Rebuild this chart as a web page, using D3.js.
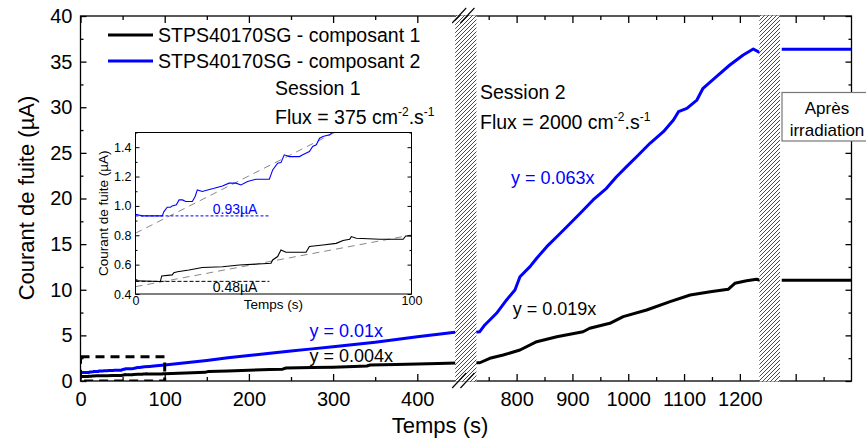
<!DOCTYPE html>
<html><head><meta charset="utf-8">
<script src="https://cdn.jsdelivr.net/npm/d3@7"></script>
<style>
html,body{margin:0;padding:0;background:#fff;}
svg{display:block;font-family:"Liberation Sans",Arial,sans-serif;}
</style></head>
<body>
<svg id="chart" width="866" height="441"></svg>
<script>
// ---------------- DATA ----------------
const seriesNames = ["STPS40170SG - composant 1", "STPS40170SG - composant 2"];
const seriesColors = ["#000000", "#0000ff"];

// Session 1 (Flux = 375 cm-2.s-1) : [time (s), current (µA)]
const black1 = [[0,0.49],[9,0.485],[9.5,0.523],[13.3,0.53],[13.9,0.545],[15.2,0.552],[19.4,0.564],[24.2,0.58],[31.5,0.586],[37.6,0.598],[49.1,0.609],[49.7,0.632],[51.5,0.655],[52.7,0.70],[54.5,0.684],[61.8,0.684],[63,0.723],[67.9,0.734],[72.7,0.745],[75.2,0.764],[77.6,0.773],[78.2,0.791],[80,0.78],[88.5,0.773],[97,0.773],[97.9,0.795],[100,0.795],[125,0.87],[148,0.95],[152,1.05],[175,1.1],[200,1.18],[225,1.25],[240,1.3],[244,1.42],[275,1.47],[300,1.52],[325,1.6],[340,1.65],[344,1.75],[375,1.8],[400,1.85],[425,1.92],[447,1.97]];
const blue1 = [[0,0.943],[2.4,0.932],[9.7,0.932],[10.3,0.961],[11.5,0.991],[12.7,0.991],[13.3,1.0],[14.8,1.007],[15.8,1.041],[17,1.041],[18.2,1.03],[20.6,1.03],[21.6,1.064],[22.4,1.109],[24.2,1.098],[26.1,1.109],[28.5,1.12],[31.5,1.136],[33.9,1.155],[36.4,1.155],[38.2,1.143],[40.6,1.166],[43.6,1.182],[48.5,1.182],[49.7,1.245],[51.5,1.291],[52.7,1.295],[53.9,1.348],[55.8,1.336],[59.4,1.336],[60.6,1.348],[63,1.37],[64.2,1.405],[65.5,1.416],[66.7,1.461],[67.9,1.473],[70.3,1.484],[72,1.51],[76,1.55],[82,1.6],[90,1.67],[100,1.75],[125,2.0],[150,2.25],[175,2.55],[200,2.8],[225,3.05],[250,3.3],[275,3.52],[300,3.75],[325,4.0],[350,4.25],[375,4.55],[400,4.85],[425,5.12],[447,5.36]];

// Session 2 (Flux = 2000 cm-2.s-1)
const black2 = [[725,2.0],[734,2.0],[752,2.49],[776,2.85],[806,3.40],[836,4.31],[872,4.85],[919,5.40],[931,5.78],[967,6.32],[991,7.05],[1033,7.78],[1075,8.69],[1111,9.42],[1147,9.79],[1179,10.05],[1191,10.71],[1212,10.99],[1230,11.15],[1239,10.99]];
const blue2 = [[725,5.34],[734,5.40],[743,6.14],[764,7.42],[782,8.88],[797,9.97],[806,11.43],[824,12.53],[836,13.45],[854,14.72],[872,15.81],[890,16.91],[914,18.38],[937,19.84],[961,21.12],[979,22.39],[997,23.49],[1015,24.58],[1039,26.05],[1063,27.32],[1081,28.60],[1090,29.51],[1105,29.88],[1123,30.79],[1134,32.08],[1158,33.35],[1182,34.63],[1206,35.73],[1224,36.38],[1236,35.98]];

// After irradiation
const black3 = [[1275,11.05],[1400,11.05]];
const blue3 = [[1275,36.35],[1400,36.35]];

// Axis ticks
const yMajor = [0,5,10,15,20,25,30,35,40];
const yMinor = [2.5,7.5,12.5,17.5,22.5,27.5,32.5,37.5];
const x1Major = [0,100,200,300,400];
const x1Minor = [50,150,250,350];
const x2Major = [800,900,1000,1100,1200];
const x2Unlabeled = [1300];
const x2Minor = [750,850,950,1050,1150,1250,1350];

// Breaks (time spans hidden by hatched bands)
const break1 = [445, 728];
const break2 = [1235, 1272];

// Annotations
const fitLabels = [
  {session:1, t:272, v:4.8, text:"y = 0.01x", color:"#0000ff"},
  {session:1, t:272, v:2.1, text:"y = 0.004x", color:"#000"},
  {session:2, t:790, v:21.6, text:"y = 0.063x", color:"#0000ff"},
  {session:2, t:793, v:7.2, text:"y = 0.019x", color:"#000"}
];
const zoomBox = [0, 100, 0, 2.66];

// Inset
const insetYTicks = [0.4,0.6,0.8,1.0,1.2,1.4];
const insetYMinor = [0.5,0.7,0.9,1.1,1.3,1.5];
const insetXTicks = [0,100];
const insetRefs = [{v:0.932, t0:0, t1:48.5, label:"0.93µA", color:"#0000ff", lv:0.98, dash:"3,2"},
                   {v:0.486, t0:0, t1:48.5, label:"0.48µA", color:"#000", lv:0.445, dash:"4,2"}];
const insetFits = [{a:0.814, b:0.0095}, {a:0.45, b:0.00352}];

// ---------------- LAYOUT ----------------
const svg = d3.select("#chart");
const L = 80.5, R = 851.5, T = 16, B = 381;
const y = d3.scaleLinear().domain([0,40]).range([B,T]);
const x1 = d3.scaleLinear().domain([0,450]).range([L,459.4]);
const x2 = d3.scaleLinear().domain([700,1400]).range([460.8,R]);
const FONT = '"Liberation Sans",Arial,sans-serif';
const fmtInt = d3.format("d");

const defs = svg.append("defs");
const pat = defs.append("pattern").attr("id","hatch").attr("patternUnits","userSpaceOnUse")
  .attr("width",4).attr("height",4);
pat.append("rect").attr("width",4).attr("height",4).attr("fill","#fff");
pat.append("path").attr("d","M-1,1 L1,-1 M0,4 L4,0 M3,5 L5,3").attr("stroke","#333").attr("stroke-width",0.9);

defs.append("clipPath").attr("id","clipMain").append("rect")
  .attr("x",L).attr("y",T).attr("width",R-L).attr("height",B-T);

const main = svg.append("g").attr("clip-path","url(#clipMain)");
const line1 = d3.line().x(d=>x1(d[0])).y(d=>y(d[1]));
const line2 = d3.line().x(d=>x2(d[0])).y(d=>y(d[1]));
[[black1,0],[blue1,1]].forEach(([d,i])=>main.append("path").datum(d).attr("d",line1)
  .attr("fill","none").attr("stroke",seriesColors[i]).attr("stroke-width",3).attr("stroke-linejoin","round"));
[[black2,0],[blue2,1],[black3,0],[blue3,1]].forEach(([d,i])=>main.append("path").datum(d).attr("d",line2)
  .attr("fill","none").attr("stroke",seriesColors[i]).attr("stroke-width",3).attr("stroke-linejoin","round"));

// dashed zoom box
main.append("rect").attr("x",x1(zoomBox[0])).attr("y",y(zoomBox[3]))
  .attr("width",x1(zoomBox[1])-x1(zoomBox[0])).attr("height",y(zoomBox[2])-y(zoomBox[3]))
  .attr("fill","none").attr("stroke","#000").attr("stroke-width",3).attr("stroke-dasharray","9,6");

// frame
svg.append("rect").attr("x",L).attr("y",T).attr("width",R-L).attr("height",B-T)
  .attr("fill","none").attr("stroke","#000").attr("stroke-width",1.3);

function styleAxis(g, fs){
  g.select(".domain").remove();
  g.selectAll("line").attr("stroke","#000").attr("stroke-width",1.3);
  g.selectAll("text").attr("font-family",FONT).attr("font-size",fs).attr("fill","#000");
}
// bottom
svg.append("g").attr("transform",`translate(0,${B})`).call(d3.axisBottom(x1).tickValues(x1Major).tickSize(-7).tickPadding(11).tickFormat(fmtInt)).call(styleAxis,20);
svg.append("g").attr("transform",`translate(0,${B})`).call(d3.axisBottom(x1).tickValues(x1Minor).tickSize(-4).tickFormat("")).call(styleAxis,20);
svg.append("g").attr("transform",`translate(0,${B})`).call(d3.axisBottom(x2).tickValues(x2Major).tickSize(-7).tickPadding(11).tickFormat(fmtInt)).call(styleAxis,20);
svg.append("g").attr("transform",`translate(0,${B})`).call(d3.axisBottom(x2).tickValues(x2Unlabeled).tickSize(-7).tickFormat("")).call(styleAxis,20);
svg.append("g").attr("transform",`translate(0,${B})`).call(d3.axisBottom(x2).tickValues(x2Minor).tickSize(-4).tickFormat("")).call(styleAxis,20);
// top
svg.append("g").attr("transform",`translate(0,${T})`).call(d3.axisTop(x1).tickValues(x1Major).tickSize(-7).tickFormat("")).call(styleAxis,20);
svg.append("g").attr("transform",`translate(0,${T})`).call(d3.axisTop(x1).tickValues(x1Minor).tickSize(-4).tickFormat("")).call(styleAxis,20);
svg.append("g").attr("transform",`translate(0,${T})`).call(d3.axisTop(x2).tickValues(x2Major.concat(x2Unlabeled)).tickSize(-7).tickFormat("")).call(styleAxis,20);
svg.append("g").attr("transform",`translate(0,${T})`).call(d3.axisTop(x2).tickValues(x2Minor).tickSize(-4).tickFormat("")).call(styleAxis,20);
// left / right
svg.append("g").attr("transform",`translate(${L},0)`).call(d3.axisLeft(y).tickValues(yMajor).tickSize(-6).tickPadding(8).tickFormat(fmtInt)).call(styleAxis,20);
svg.append("g").attr("transform",`translate(${L},0)`).call(d3.axisLeft(y).tickValues(yMinor).tickSize(-3).tickFormat("")).call(styleAxis,20);
svg.append("g").attr("transform",`translate(${R},0)`).call(d3.axisRight(y).tickValues(yMajor).tickSize(-6).tickFormat("")).call(styleAxis,20);
svg.append("g").attr("transform",`translate(${R},0)`).call(d3.axisRight(y).tickValues(yMinor).tickSize(-3).tickFormat("")).call(styleAxis,20);

// hatched bands
const bands = [[x1(break1[0]), x2(break1[1]), true],[x2(break2[0]), x2(break2[1]), false]];
bands.forEach(([a,b,marks])=>{
  svg.append("rect").attr("x",a).attr("y",T-0.5).attr("width",b-a).attr("height",B-T+1).attr("fill","url(#hatch)");
  if(marks){
    [T,B].forEach(yy=>{
      [a-3, b-16].forEach(xs=>{
        svg.append("line").attr("x1",xs).attr("y1",yy+7).attr("x2",xs+14).attr("y2",yy-8)
          .attr("stroke","#000").attr("stroke-width",1.1);
      });
    });
  }
});

// axis titles
svg.append("text").attr("x",440).attr("y",433).attr("text-anchor","middle")
  .attr("font-size",22).attr("font-family",FONT).text("Temps (s)");
svg.append("text").attr("transform","translate(34,198) rotate(-90)").attr("text-anchor","middle")
  .attr("font-size",22).attr("font-family",FONT).text("Courant de fuite (µA)");

// legend
seriesNames.forEach((n,i)=>{
  const yy = 35 + i*26;
  svg.append("line").attr("x1",108).attr("x2",153).attr("y1",yy).attr("y2",yy)
    .attr("stroke",seriesColors[i]).attr("stroke-width",3);
  svg.append("text").attr("x",158).attr("y",yy+7).attr("font-size",19.5).attr("font-family",FONT).text(n);
});

function fluxText(x, yb, val){
  const t = svg.append("text").attr("x",x).attr("y",yb).attr("font-size",19.5).attr("font-family",FONT);
  t.append("tspan").text(`Flux = ${val} cm`);
  t.append("tspan").attr("font-size",12).attr("dy",-8).text("-2");
  t.append("tspan").attr("dy",8).text(".s");
  t.append("tspan").attr("font-size",12).attr("dy",-8).text("-1");
}
svg.append("text").attr("x",275).attr("y",95).attr("font-size",19.5).attr("font-family",FONT).text("Session 1");
fluxText(275,124,"375");
svg.append("text").attr("x",480).attr("y",99).attr("font-size",19.5).attr("font-family",FONT).text("Session 2");
fluxText(480,129,"2000");

fitLabels.forEach(f=>{
  const xs = f.session===1 ? x1 : x2;
  svg.append("text").attr("x",xs(f.t)).attr("y",y(f.v)).attr("font-size",18).attr("font-family",FONT)
    .attr("fill",f.color).text(f.text);
});

// Après irradiation box
svg.append("rect").attr("x",782).attr("y",92.5).attr("width",100).attr("height",48.5)
  .attr("fill","#fff").attr("stroke","#777").attr("stroke-width",1.2);
svg.append("text").attr("x",827).attr("y",114).attr("text-anchor","middle").attr("font-size",17).attr("font-family",FONT).text("Après");
svg.append("text").attr("x",827).attr("y",136).attr("text-anchor","middle").attr("font-size",17).attr("font-family",FONT).text("irradiation");

// ---------------- INSET ----------------
const iL=135.5, iR=411.5, iT=132.5, iB=294;
const ix = d3.scaleLinear().domain([0,100]).range([iL,iR]);
const iy = d3.scaleLinear().domain([0.4,1.5]).range([iB,iT]);
const inset = svg.append("g");
inset.append("rect").attr("x",iL).attr("y",iT).attr("width",iR-iL).attr("height",iB-iT).attr("fill","#fff");
defs.append("clipPath").attr("id","clipInset").append("rect").attr("x",iL).attr("y",iT).attr("width",iR-iL).attr("height",iB-iT);
const ig = inset.append("g").attr("clip-path","url(#clipInset)");
const iline = d3.line().x(d=>ix(d[0])).y(d=>iy(d[1]));
insetFits.forEach(f=>{
  ig.append("path").datum([[0,f.a],[100,f.a+100*f.b]]).attr("d",iline).attr("fill","none")
    .attr("stroke","#888").attr("stroke-width",1).attr("stroke-dasharray","7,5");
});
[[black1,0],[blue1,1]].forEach(([d,i])=>ig.append("path").datum(d.filter(p=>p[0]<=100)).attr("d",iline)
  .attr("fill","none").attr("stroke",seriesColors[i]).attr("stroke-width",1.1));
insetRefs.forEach(r=>{
  ig.append("path").datum([[r.t0,r.v],[r.t1,r.v]]).attr("d",iline).attr("stroke",r.color)
    .attr("stroke-width",1).attr("stroke-dasharray",r.dash);
  inset.append("text").attr("x",ix(28)).attr("y",iy(r.lv)+5).attr("font-size",14).attr("font-family",FONT)
    .attr("fill",r.color).text(r.label);
});
inset.append("rect").attr("x",iL).attr("y",iT).attr("width",iR-iL).attr("height",iB-iT)
  .attr("fill","none").attr("stroke","#000").attr("stroke-width",1);
inset.append("g").attr("transform",`translate(${iL},0)`).call(d3.axisLeft(iy).tickValues(insetYTicks).tickSize(-4).tickPadding(4).tickFormat(d3.format(".1f"))).call(styleAxis,12.5);
inset.append("g").attr("transform",`translate(${iL},0)`).call(d3.axisLeft(iy).tickValues(insetYMinor).tickSize(-2).tickFormat("")).call(styleAxis,12.5);
inset.append("g").attr("transform",`translate(${iR},0)`).call(d3.axisRight(iy).tickValues(insetYTicks).tickSize(-4).tickFormat("")).call(styleAxis,12.5);
inset.append("g").attr("transform",`translate(${iR},0)`).call(d3.axisRight(iy).tickValues(insetYMinor).tickSize(-2).tickFormat("")).call(styleAxis,12.5);
inset.append("g").attr("transform",`translate(0,${iB})`).call(d3.axisBottom(ix).tickValues(insetXTicks).tickSize(0).tickPadding(2).tickFormat(fmtInt)).call(styleAxis,12.5);
inset.selectAll("line").attr("stroke-width",1);
inset.append("text").attr("x",(iL+iR)/2).attr("y",309).attr("text-anchor","middle").attr("font-size",13.5).attr("font-family",FONT).text("Temps (s)");
inset.append("text").attr("transform",`translate(108,${(iT+iB)/2}) rotate(-90)`).attr("text-anchor","middle")
  .attr("font-size",13.5).attr("font-family",FONT).text("Courant de fuite (µA)");
</script>
</body></html>
